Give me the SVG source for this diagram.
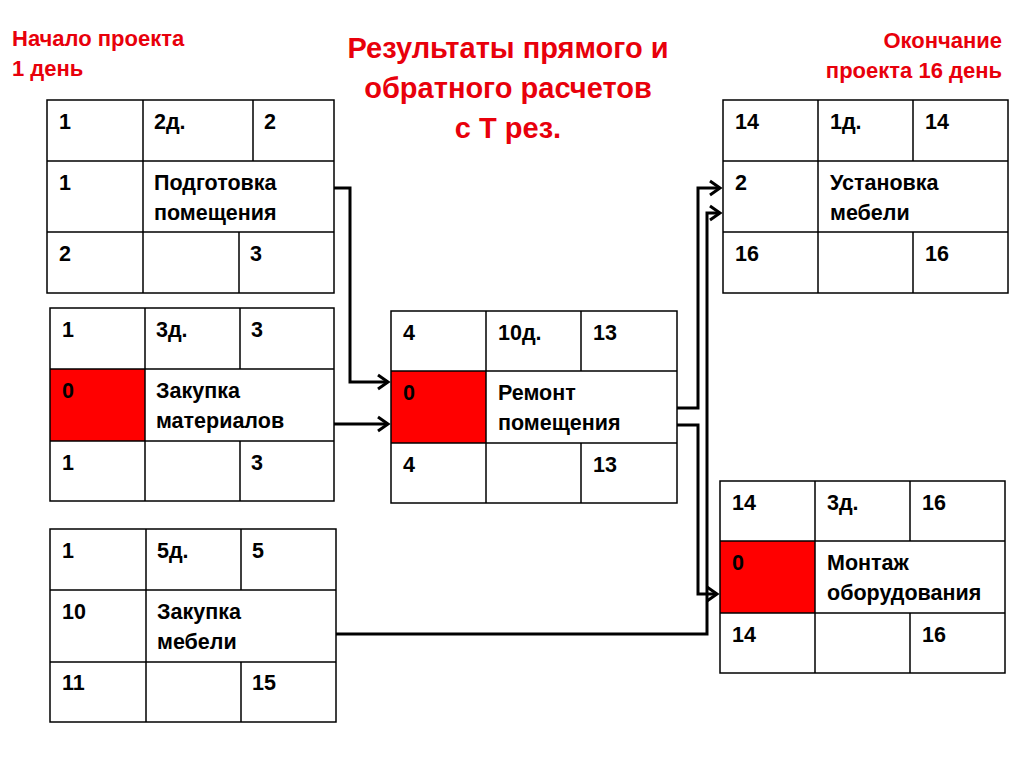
<svg xmlns="http://www.w3.org/2000/svg" width="1024" height="767" viewBox="0 0 1024 767">
<style>
.cell{fill:none;stroke:#000;stroke-width:1.5}
.red{fill:#ff0000;stroke:none}
.t{font-family:"Liberation Sans",Arial,sans-serif;font-weight:bold;font-size:21.5px;fill:#000}
.h{font-family:"Liberation Sans",Arial,sans-serif;font-weight:bold;font-size:22px;fill:#e8000b}
.ttl{font-family:"Liberation Sans",Arial,sans-serif;font-weight:bold;font-size:29px;fill:#e8000b;text-anchor:middle}
.conn{fill:none;stroke:#000;stroke-width:3;marker-end:url(#arr)}
</style>
<defs>
<marker id="arr" markerUnits="userSpaceOnUse" markerWidth="20" markerHeight="20" refX="0" refY="0" viewBox="-12 -10 14 20" orient="auto" overflow="visible">
<path d="M-10,-7 L0,0 L-10,7" fill="none" stroke="#000" stroke-width="3"/>
</marker>
</defs>
<rect width="1024" height="767" fill="#fff"/>

<g id="titles">
<text class="h" x="12" y="46">Начало проекта</text>
<text class="h" x="12" y="76">1 день</text>
<text class="ttl" x="508" y="58">Результаты прямого и</text>
<text class="ttl" x="508" y="98">обратного расчетов</text>
<text class="ttl" x="508" y="138">с Т рез.</text>
<text class="h" x="1002" y="48" text-anchor="end">Окончание</text>
<text class="h" x="1002" y="78" text-anchor="end">проекта 16 день</text>
</g>

<g id="connectors">
<path class="conn" d="M334,188 H350 V382 H388"/>
<path class="conn" d="M334,424 H388"/>
<path class="conn" d="M677,408 H698 V188 H720"/>
<path class="conn" d="M677,425 H698 V594 H717"/>
<path class="conn" d="M336,634 H707 V213 H720"/>
</g>

<g id="node-podgotovka">
<rect class="cell" x="47" y="100" width="287" height="193"/>
<path class="cell" d="M47,161 H334 M47,232 H334 M143,100 V293 M253,100 V161 M239,232 V293"/>
<text class="t" x="59" y="129">1</text>
<text class="t" x="154" y="129">2д.</text>
<text class="t" x="264" y="129">2</text>
<text class="t" x="59" y="190">1</text>
<text class="t" x="154" y="190">Подготовка</text>
<text class="t" x="154" y="220">помещения</text>
<text class="t" x="59" y="261">2</text>
<text class="t" x="250" y="261">3</text>
</g>

<g id="node-zakupka-materialov">
<rect class="red" x="50" y="369" width="95" height="72"/>
<rect class="cell" x="50" y="308" width="284" height="193"/>
<path class="cell" d="M50,369 H334 M50,441 H334 M145,308 V501 M240,308 V369 M240,441 V501"/>
<text class="t" x="62" y="337">1</text>
<text class="t" x="156" y="337">3д.</text>
<text class="t" x="251" y="337">3</text>
<text class="t" x="62" y="398">0</text>
<text class="t" x="156" y="398">Закупка</text>
<text class="t" x="156" y="428">материалов</text>
<text class="t" x="62" y="470">1</text>
<text class="t" x="251" y="470">3</text>
</g>

<g id="node-zakupka-mebeli">
<rect class="cell" x="50" y="529" width="286" height="193"/>
<path class="cell" d="M50,590 H336 M50,662 H336 M146,529 V722 M241,529 V590 M241,662 V722"/>
<text class="t" x="62" y="558">1</text>
<text class="t" x="157" y="558">5д.</text>
<text class="t" x="252" y="558">5</text>
<text class="t" x="62" y="619">10</text>
<text class="t" x="157" y="619">Закупка</text>
<text class="t" x="157" y="649">мебели</text>
<text class="t" x="62" y="690">11</text>
<text class="t" x="252" y="690">15</text>
</g>

<g id="node-remont">
<rect class="red" x="391" y="371" width="95" height="72"/>
<rect class="cell" x="391" y="311" width="286" height="192"/>
<path class="cell" d="M391,371 H677 M391,443 H677 M486,311 V503 M581,311 V371 M581,443 V503"/>
<text class="t" x="403" y="340">4</text>
<text class="t" x="498" y="340">10д.</text>
<text class="t" x="593" y="340">13</text>
<text class="t" x="403" y="400">0</text>
<text class="t" x="498" y="400">Ремонт</text>
<text class="t" x="498" y="430">помещения</text>
<text class="t" x="403" y="472">4</text>
<text class="t" x="593" y="472">13</text>
</g>

<g id="node-ustanovka">
<rect class="cell" x="723" y="100" width="285" height="193"/>
<path class="cell" d="M723,161 H1008 M723,232 H1008 M818,100 V293 M913,100 V161 M913,232 V293"/>
<text class="t" x="735" y="129">14</text>
<text class="t" x="830" y="129">1д.</text>
<text class="t" x="925" y="129">14</text>
<text class="t" x="735" y="190">2</text>
<text class="t" x="830" y="190">Установка</text>
<text class="t" x="830" y="220">мебели</text>
<text class="t" x="735" y="261">16</text>
<text class="t" x="925" y="261">16</text>
</g>

<g id="node-montazh">
<rect class="red" x="720" y="541" width="95" height="72"/>
<rect class="cell" x="720" y="481" width="285" height="192"/>
<path class="cell" d="M720,541 H1005 M720,613 H1005 M815,481 V673 M910,481 V541 M910,613 V673"/>
<text class="t" x="732" y="510">14</text>
<text class="t" x="827" y="510">3д.</text>
<text class="t" x="922" y="510">16</text>
<text class="t" x="732" y="570">0</text>
<text class="t" x="827" y="570">Монтаж</text>
<text class="t" x="827" y="600">оборудования</text>
<text class="t" x="732" y="642">14</text>
<text class="t" x="922" y="642">16</text>
</g>
</svg>
